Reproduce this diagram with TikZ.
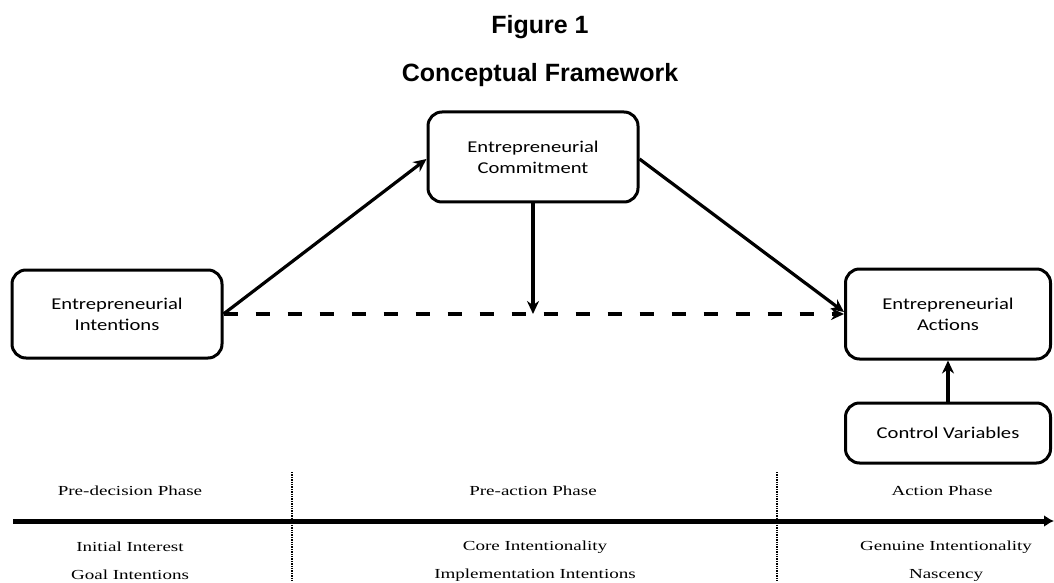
\documentclass[tikz,border=0pt]{standalone}
\usepackage{fontspec}
\setmainfont{Liberation Serif}[FakeStretch=1.38]
\newfontfamily\boxfont{Carlito}[FakeStretch=1.25]
\newfontfamily\titlefont{Liberation Sans}
\usepackage{tikz}
\usetikzlibrary{calc,arrows.meta}
\tikzset{
	concept/.style={draw, line width=3pt, rounded corners=14pt, align=center, font=\boxfont\fontsize{16.5}{21}\selectfont},
	link/.style={line width=3.2pt, -{Stealth[length=13pt,width=12pt]}},
	phase/.style={font=\fontsize{13.8}{17}\selectfont},
	heading/.style={anchor=base, font=\titlefont\bfseries\fontsize{25}{30}\selectfont}
}

\begin{document}
\begin{tikzpicture}[x=1pt,y=1pt]
		%%%%% START %%%%%
		
		\useasboundingbox (0,0) rectangle (1054,582);
		
		\node[heading] (fig) at (540, 548) {Figure 1};
		\node[heading] (title) at (540, 500) {Conceptual Framework};
		
		\node[concept, minimum width=210pt, minimum height=88pt] (intent) at (117, 268) {Entrepreneurial\\Intentions};
		\node[concept, minimum width=210pt, minimum height=90pt] (commit) at (533, 425) {Entrepreneurial\\Commitment};
		\node[concept, minimum width=205pt, minimum height=90pt] (action) at (948, 268) {Entrepreneurial\\Actions};
		\node[concept, minimum width=205pt, minimum height=60pt] (control) at (948, 149) {Control Variables};
		
		\coordinate (meet) at (533, 268);
		
		\draw[link] (intent.east) -- ($(commit.west)+(0,-2)$);
		\draw[link] ($(commit.east)+(0,-2)$) -- ($(action.west)+(0,2)$);
		\draw[link, dash pattern=on 14pt off 18pt] (intent.east) -- (action.west);
		\draw[link] (commit.south) -- (meet);
		\draw[link] (control.north) -- (action.south);
		
		% time line
		\coordinate (t0) at (13, 61);
		\coordinate (t1) at (1054, 61);
		\draw[line width=5pt, -{Latex[length=10pt,width=12pt]}] (t0) -- (t1);
		\draw[densely dotted, line width=1.4pt] (292, 110) -- (292, 0);
		\draw[densely dotted, line width=1.4pt] (777, 110) -- (777, 0);
		
		\node[phase] (p1) at (130, 91) {Pre-decision Phase};
		\node[phase] (p2) at (533, 91) {Pre-action Phase};
		\node[phase] (p3) at (942, 91) {Action Phase};
		
		\node[phase] (a1) at (130, 35) {Initial Interest};
		\node[phase] (b1) at (130, 7) {Goal Intentions};
		\node[phase] (a2) at (535, 35) {Core Intentionality};
		\node[phase] (b2) at (535, 7) {Implementation Intentions};
		\node[phase] (a3) at (946, 35) {Genuine Intentionality};
		\node[phase] (b3) at (946, 7) {Nascency};
		
		%%%%% END %%%%%
	\end{tikzpicture}
\end{document}
